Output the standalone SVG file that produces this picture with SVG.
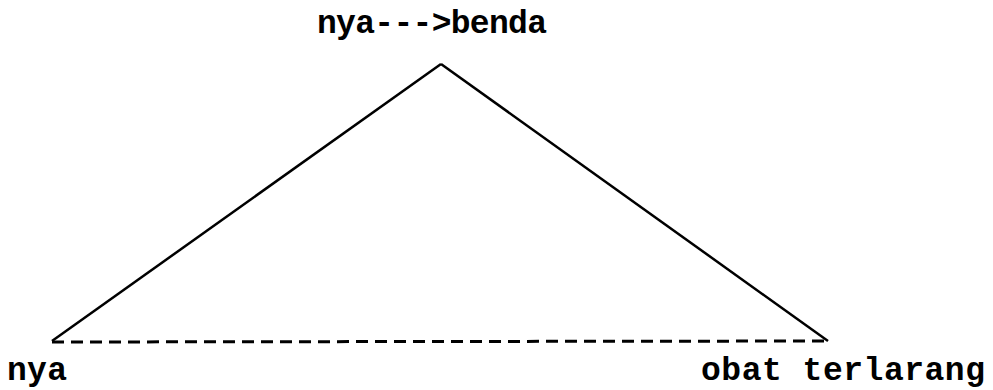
<svg xmlns="http://www.w3.org/2000/svg" width="993" height="390" viewBox="0 0 993 390">
<style>
.t{font-family:"Liberation Mono","Courier New",monospace;font-weight:bold;font-size:33px;fill:#000}
.e{stroke:#000;stroke-width:2.5;fill:none}
.d{stroke:#000;stroke-width:3;stroke-dasharray:12 7;fill:none}
</style>
<rect width="993" height="390" fill="#fff"/>
<g id="top"><text class="t" x="317" y="33" textLength="230">nya---&gt;benda</text></g>
<g id="left"><text class="t" x="7" y="380" textLength="60">nya</text></g>
<g id="right"><text class="t" x="701" y="380" textLength="284">obat terlarang</text></g>
<g id="connectors">
<path class="e" d="M441 64 L52 341"/>
<path class="e" d="M441 64 L828 341"/>
<path class="d" d="M52 342 L828 341"/>
</g>
</svg>
